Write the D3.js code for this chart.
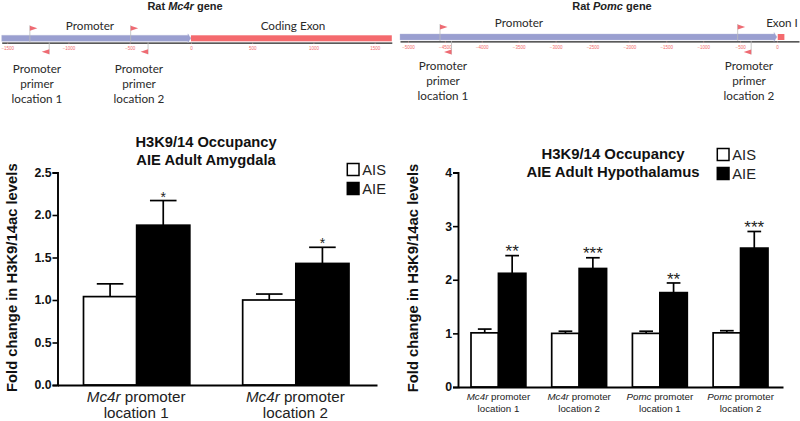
<!DOCTYPE html>
<html><head><meta charset="utf-8"><script src="https://cdnjs.cloudflare.com/ajax/libs/d3/7.8.5/d3.min.js"></script>
<style>html,body{margin:0;padding:0;background:#fff}svg{display:block}text{font-family:"Liberation Sans",Arial,sans-serif}.g text{font-family:Lato,sans-serif}.g text.gt{font-family:"Liberation Sans",Arial,sans-serif}</style></head>
<body><svg id="c" width="800" height="421"></svg>
<script>
// Bar data
const amygCats=[["Mc4r"," promoter","location 1"],["Mc4r"," promoter","location 2"]];
const amygAIS=[1.04,1.0];
const amygAISErr=[0.15,0.07];
const amygAIE=[1.88,1.43];
const amygAIEErr=[0.29,0.19];
const amygStars=["*","*"];
const amygTicks=[0,0.5,1,1.5,2,2.5];
const hypoCats=[["Mc4r"," promoter","location 1"],["Mc4r"," promoter","location 2"],["Pomc"," promoter","location 1"],["Pomc"," promoter","location 2"]];
const hypoAIS=[1.01,1.0,1.0,1.01];
const hypoAISErr=[0.07,0.04,0.04,0.04];
const hypoAIE=[2.12,2.21,1.76,2.59];
const hypoAIEErr=[0.33,0.20,0.18,0.31];
const hypoStars=["**","***","**","***"];
const hypoTicks=[0,1,2,3,4];
// Gene track data
const mc4rTicks=[-1500,-1000,-500,0,500,1000,1500];
const mc4rForward=[-1315,-492];
const mc4rReverse=[-1157,-350];
const pomcTicks=[-5000,-4500,-4000,-3500,-3000,-2500,-2000,-1500,-1000,-500,0];
const pomcForward=[-4566,-533];
const pomcReverse=[-4410,-350];

const svg=d3.select("#c");
function gene(o){
  const g=svg.append("g").attr("class","g");
  const x=d3.scaleLinear().domain(o.domain).range(o.range);
  const y=o.y;
  const ax=g.append("g").attr("transform",`translate(0,${y+7.3})`).call(d3.axisBottom(x).tickValues(o.ticks).tickSizeInner(1.5).tickSizeOuter(0).tickPadding(3).tickFormat(d3.format("d")));
  ax.select(".domain").attr("stroke","#222").attr("stroke-width",1.3);
  ax.selectAll("line").attr("stroke","#f7b0b0").attr("stroke-width",.5);
  ax.selectAll("text").attr("fill","#f26a6a").attr("font-size",4.5).style("font-family","Liberation Sans");
  const a0=x(o.promoter[0]),a1=x(o.promoter[1]);
  g.append("path").attr("d",`M${a0},${y}H${a1-3}V${y-1.5}L${a1},${y+3}L${a1-3},${y+7.5}V${y+6}H${a0}Z`).attr("fill","#9a9fd0").attr("stroke","#b9bcd8").attr("stroke-width",.4);
  g.append("rect").attr("x",x(o.exon[0])).attr("y",y).attr("width",x(o.exon[1])-x(o.exon[0])).attr("height",6).attr("fill","#f46a6e");
  o.forward.forEach(v=>{
    const X=x(v);
    g.append("line").attr("x1",X).attr("x2",X).attr("y1",y-10).attr("y2",y+7).attr("stroke","#bbb").attr("stroke-width",.8);
    g.append("path").attr("d",`M${X},${y-9.5}L${X+7.5},${y-7}L${X},${y-4.5}Z`).attr("fill","#ee6b73");
  });
  o.reverse.forEach(v=>{
    const X=x(v);
    g.append("line").attr("x1",X).attr("x2",X).attr("y1",y+7).attr("y2",y+19+o.revDy).attr("stroke","#bbb").attr("stroke-width",.8);
    g.append("path").attr("d",`M${X},${y+14+o.revDy}L${X-7.5},${y+16.5+o.revDy}L${X},${y+19+o.revDy}Z`).attr("fill","#ee6b73");
  });
  const t=g.append("text").attr("class","gt").attr("x",o.titleX).attr("y",10.2).attr("text-anchor","middle").attr("font-size",11).attr("font-weight",700).attr("fill","#222");
  t.append("tspan").text("Rat ");t.append("tspan").attr("font-style","italic").text(o.gene);t.append("tspan").text(" gene");
  o.labels.forEach(l=>g.append("text").attr("x",l[1]).attr("y",l[2]).attr("text-anchor","middle").attr("font-size",11.7).attr("fill","#2a2a2a").text(l[0]));
  o.primers.forEach(p=>{["Promoter","primer",p[0]].forEach((s,i)=>g.append("text").attr("x",p[1]).attr("y",p[2]+i*14.8).attr("text-anchor","middle").attr("font-size",11.7).attr("fill","#2a2a2a").text(s));});
}
gene({domain:[-1545,1640],range:[1.7,391.8],y:35.3,revDy:0,ticks:mc4rTicks,promoter:[-1545,0],exon:[0,1640],forward:mc4rForward,reverse:mc4rReverse,gene:"Mc4r",titleX:185,
 labels:[["Promoter",90,30],["Coding Exon",293,30]],primers:[["location 1",37,73],["location 2",139,73]]});
gene({domain:[-5108,298],range:[400,799],y:34,revDy:1.5,ticks:pomcTicks,promoter:[-5108,0],exon:[10,100],forward:pomcForward,reverse:pomcReverse,gene:"Pomc",titleX:612,
 labels:[["Promoter",519,27],["Exon I",782,27]],primers:[["location 1",443,70],["location 2",749,70]]});

function bars(o){
  const g=svg.append("g");
  const y=d3.scaleLinear().domain(o.domain).range(o.yr);
  const x=d3.scaleBand().domain(o.cats.map((_,i)=>i)).range(o.barR).paddingInner(o.pi).paddingOuter(0);
  const h=d3.scaleBand().domain([0,1]).range([0,x.bandwidth()]);
  [[o.ais,o.aisE,"#fff"],[o.aie,o.aieE,"#000"]].forEach((s,k)=>{
    o.cats.forEach((c,i)=>{
      const X=x(i)+h(k),w=h.bandwidth(),cx=X+w/2,top=y(s[0][i]),et=y(s[0][i]+s[1][i]);
      g.append("line").attr("x1",cx).attr("x2",cx).attr("y1",top).attr("y2",et).attr("stroke","#000").attr("stroke-width",1.7);
      g.append("line").attr("x1",cx-w*.25).attr("x2",cx+w*.25).attr("y1",et).attr("y2",et).attr("stroke","#000").attr("stroke-width",1.7);
      g.append("rect").attr("x",X).attr("y",top).attr("width",w).attr("height",y(0)-top).attr("fill",s[2]).attr("stroke","#000").attr("stroke-width",1.7);
      if(k==1) g.append("text").attr("x",cx).attr("y",et+o.starDy).attr("text-anchor","middle").attr("font-size",o.starSize).attr("fill","#222").text(o.stars[i]);
    });
  });
  const ya=g.append("g").attr("transform",`translate(${o.xr[0]},0)`).call(d3.axisLeft(y).tickValues(o.ticks).tickSize(5).tickPadding(1).tickFormat(o.fmt));
  ya.select(".domain").attr("stroke-width",1.9).attr("stroke","#000");
  ya.selectAll("line").attr("stroke-width",1.6).attr("stroke","#000");
  ya.selectAll("text").attr("font-size",o.tickSize).attr("font-weight",700).attr("fill","#111");
  const xs=d3.scaleLinear().domain([0,1]).range(o.xr);
  const xa=g.append("g").attr("transform",`translate(0,${o.yr[0]})`).call(d3.axisBottom(xs).tickValues([]).tickSize(0));
  xa.select(".domain").attr("stroke-width",1.9).attr("stroke","#000");
  o.cats.forEach((c,i)=>{
    const cx=x(i)+x.bandwidth()/2+o.catDx;
    const t=g.append("text").attr("x",cx).attr("y",o.catY).attr("text-anchor","middle").attr("font-size",o.catSize).attr("fill","#222");
    t.append("tspan").attr("font-style","italic").text(c[0]);t.append("tspan").text(c[1]);
    g.append("text").attr("x",cx).attr("y",o.catY+o.catLh).attr("text-anchor","middle").attr("font-size",o.catSize).attr("fill","#222").text(c[2]);
  });
  o.title.forEach((s,i)=>g.append("text").attr("x",o.titleX).attr("y",o.titleY+i*o.titleLh).attr("text-anchor","middle").attr("font-size",o.titleSize).attr("font-weight",700).attr("fill","#111").text(s));
  g.append("text").attr("transform",`translate(${o.ylX},${o.ylY}) rotate(-90)`).attr("text-anchor","middle").attr("font-size",o.ylSize).attr("font-weight",700).attr("fill","#111").text("Fold change in H3K9/14ac levels");
  ["AIS","AIE"].forEach((s,i)=>{
    g.append("rect").attr("x",o.legX).attr("y",o.legY+i*19).attr("width",11.7).attr("height",12).attr("fill",i?"#000":"#fff").attr("stroke","#000").attr("stroke-width",1.5);
    g.append("text").attr("x",o.legX+15).attr("y",o.legY+11.5+i*19).attr("font-size",14.7).attr("fill","#222").text(s);
  });
}
bars({cats:amygCats,ais:amygAIS,aisE:amygAISErr,aie:amygAIE,aieE:amygAIEErr,stars:amygStars,ticks:amygTicks,domain:[0,2.5],yr:[385,172.5],xr:[57.5,377],barR:[83.5,349],pi:.332,
 fmt:d3.format(".1f"),tickSize:12.3,catY:401.7,catLh:16,catSize:15.2,catDx:-0.5,title:["H3K9/14 Occupancy","AIE Adult Amygdala"],titleX:206,titleY:147.3,titleLh:18,titleSize:14.7,
 ylX:17,ylY:277.7,ylSize:14.8,legX:347.3,legY:163.5,starDy:1,starSize:14});
bars({cats:hypoCats,ais:hypoAIS,aisE:hypoAISErr,aie:hypoAIE,aieE:hypoAIEErr,stars:hypoStars,ticks:hypoTicks,domain:[0,4],yr:[387,172.5],xr:[458,783],barR:[471,768],pi:.32,
 fmt:d3.format("d"),tickSize:12.3,catY:400,catLh:11.7,catSize:9.75,catDx:0,title:["H3K9/14 Occupancy","AIE Adult Hypothalamus"],titleX:613,titleY:159,titleLh:18,titleSize:14.9,
 ylX:418,ylY:278,ylSize:14.8,legX:717.3,legY:148.5,starDy:1.7,starSize:17});
</script></body></html>
